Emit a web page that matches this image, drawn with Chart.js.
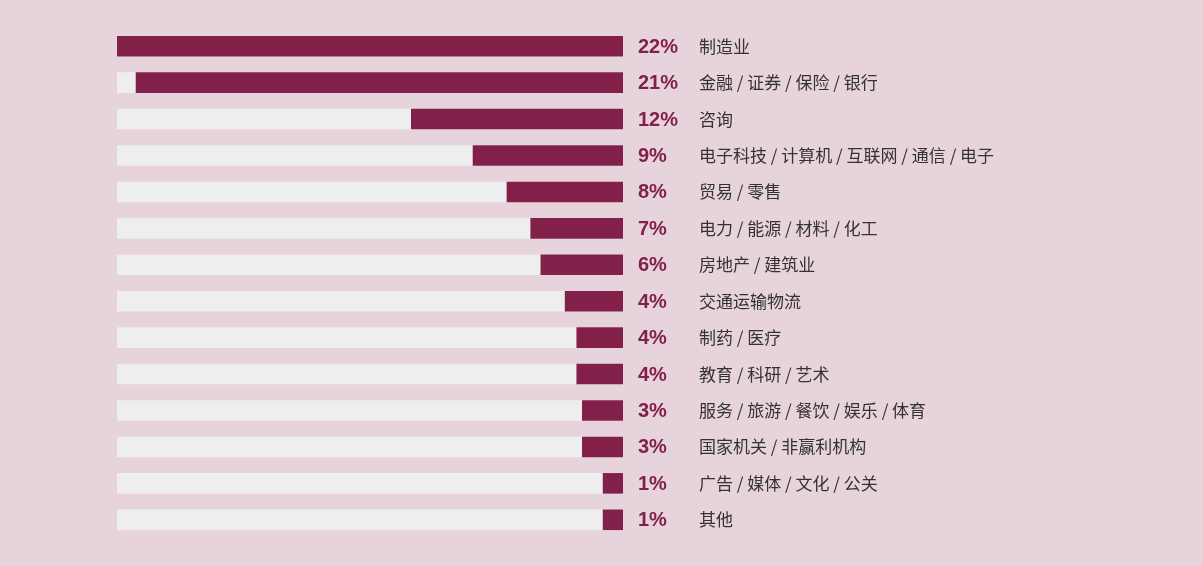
<!DOCTYPE html>
<html>
<head>
<meta charset="utf-8">
<script src="https://cdn.jsdelivr.net/npm/chart.js@4/dist/chart.umd.min.js"></script>
<style>
html,body{margin:0;padding:0;background:#e7d3dc;}
#wrap{width:1203px;height:566px;position:relative;}
</style>
</head>
<body>
<div id="wrap"><canvas id="c" width="1203" height="566"></canvas></div>
<script>
const categories = ["制造业","金融 / 证券 / 保险 / 银行","咨询","电子科技 / 计算机 / 互联网 / 通信 / 电子","贸易 / 零售","电力 / 能源 / 材料 / 化工","房地产 / 建筑业","交通运输物流","制药 / 医疗","教育 / 科研 / 艺术","服务 / 旅游 / 餐饮 / 娱乐 / 体育","国家机关 / 非赢利机构","广告 / 媒体 / 文化 / 公关","其他"];
const percentLabels = ["22%","21%","12%","9%","8%","7%","6%","4%","4%","4%","3%","3%","1%","1%"];
// bar lengths as drawn in the picture (0-100 scale of the track)
const barLengths = [100,96.3,41.9,29.7,23.0,18.3,16.3,11.5,9.2,9.2,8.1,8.1,4.0,4.0];
const trackLengths = [100,100,100,100,100,100,100,100,100,100,100,100,100,100];

const labelPlugin = {
  id:'sideLabels',
  afterDatasetsDraw(chart){
    const ctx = chart.ctx;
    const y = chart.scales.y;
    const right = chart.chartArea.right;
    ctx.save();
    ctx.textBaseline = 'middle';
    ctx.textAlign = 'left';
    categories.forEach((c,i)=>{
      const py = y.getPixelForValue(i);
      ctx.fillStyle = '#82204a';
      ctx.font = 'bold 20px "Liberation Sans", Arial, sans-serif';
      ctx.fillText(percentLabels[i], right + 15, py + 1);
      ctx.fillStyle = '#333333';
      ctx.font = '17px "Noto Sans CJK SC", sans-serif';
      ctx.fillText(c, right + 76, py);
    });
    ctx.restore();
  }
};

new Chart(document.getElementById('c'), {
  type:'bar',
  data:{
    labels: categories,
    datasets:[
      {data: barLengths, backgroundColor:'#82204a', grouped:false, barPercentage:0.565, categoryPercentage:1, order:0},
      {data: trackLengths, backgroundColor:'#efeeef', grouped:false, barPercentage:0.565, categoryPercentage:1, order:1}
    ]
  },
  options:{
    indexAxis:'y',
    responsive:false,
    animation:false,
    layout:{padding:{left:117,right:580,top:28,bottom:28}},
    plugins:{legend:{display:false},tooltip:{enabled:false}},
    scales:{
      x:{display:false,reverse:true,min:0,max:100},
      y:{display:false}
    }
  },
  plugins:[labelPlugin]
});
</script>
</body>
</html>
